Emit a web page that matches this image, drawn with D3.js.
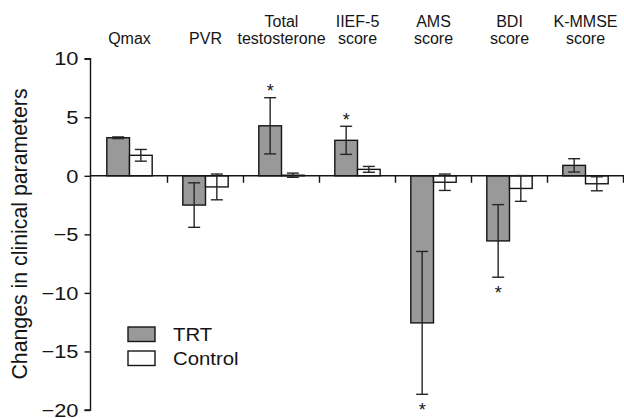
<!DOCTYPE html>
<html><head><meta charset="utf-8">
<script src="https://cdn.jsdelivr.net/npm/d3@7"></script>
<style>
html,body{margin:0;padding:0;background:#fff;}
svg{display:block;font-family:"Liberation Sans",Arial,sans-serif;}
</style></head>
<body><svg id="chart" width="624" height="418"></svg>
<script>
const categories = ["Qmax","PVR","Total testosterone","IIEF-5 score","AMS score","BDI score","K-MMSE score"];
const labelLines = [["Qmax"],["PVR"],["Total","testosterone"],["IIEF-5","score"],["AMS","score"],["BDI","score"],["K-MMSE","score"]];
const series = ["TRT","Control"];
const trtMean = [3.25,-2.5,4.27,3.03,-12.56,-5.56,0.89];
const trtErr  = [0.07,1.9,2.4,1.2,6.1,3.1,0.57];
const ctlMean = [1.75,-0.95,0.05,0.55,-0.55,-1.08,-0.68];
const ctlErr  = [0.5,1.1,0.18,0.25,0.7,1.1,0.6];
const significant = [false,false,true,true,true,true,false];
const yTicks = [10,5,0,-5,-10,-15,-20];

const svg = d3.select("#chart");
const x = d3.scaleBand().domain(categories).range([91.5,623.5]).paddingInner(0).paddingOuter(0);
const xi = d3.scaleBand().domain(series).range([0,x.bandwidth()]).paddingInner(0).paddingOuter(0.675);
const y = d3.scaleLinear().domain([-20,10]).range([410,58.7]);
const fills = {TRT:"#999999", Control:"#fdfdfd"};
const ink = "#151515";

const data = [];
categories.forEach((c,i)=>{
  data.push({cat:c, s:"TRT", v:trtMean[i], e:trtErr[i], sig:significant[i]});
  data.push({cat:c, s:"Control", v:ctlMean[i], e:ctlErr[i], sig:false});
});

// bars
svg.append("g").selectAll("rect").data(data).join("rect")
  .attr("x",d=>x(d.cat)+xi(d.s))
  .attr("width",xi.bandwidth())
  .attr("y",d=>y(Math.max(0,d.v)))
  .attr("height",d=>Math.abs(y(d.v)-y(0)))
  .attr("fill",d=>fills[d.s])
  .attr("stroke",ink).attr("stroke-width",1.4);

// x axis line (zero) with ticks at band boundaries
const xAxisG = svg.append("g").attr("transform",`translate(0,${y(0)})`);
xAxisG.append("line").attr("x1",91).attr("x2",624).attr("y1",0).attr("y2",0)
  .attr("stroke",ink).attr("stroke-width",1.4);
xAxisG.selectAll("line.tk").data(categories).join("line").attr("class","tk")
  .attr("x1",d=>x(d)+x.bandwidth()).attr("x2",d=>x(d)+x.bandwidth())
  .attr("y1",0).attr("y2",7).attr("stroke",ink).attr("stroke-width",1.4);

// error bars
const eg = svg.append("g").attr("stroke","#262626").attr("stroke-width",1.4);
data.forEach(d=>{
  const cx = x(d.cat)+xi(d.s)+xi.bandwidth()/2;
  const y1 = y(d.v+d.e), y2 = y(d.v-d.e);
  eg.append("line").attr("x1",cx).attr("x2",cx).attr("y1",y1).attr("y2",y2);
  eg.append("line").attr("x1",cx-6).attr("x2",cx+6).attr("y1",y1).attr("y2",y1);
  eg.append("line").attr("x1",cx-6).attr("x2",cx+6).attr("y1",y2).attr("y2",y2);
});

// asterisks
svg.append("g").selectAll("text").data(data.filter(d=>d.sig)).join("text")
  .attr("x",d=>x(d.cat)+xi(d.s)+xi.bandwidth()/2)
  .attr("y",d=> d.v>=0 ? y(d.v+d.e)-11+10.3 : y(d.v-d.e)+11+10.3)
  .attr("text-anchor","middle").attr("font-size",18).attr("fill",ink).text("*");

// y axis
const sx = 1.15;
const yAxis = d3.axisLeft(y).tickValues(yTicks).tickSize(6).tickPadding(0)
  .tickFormat(d=> d<0 ? "\u2212"+Math.abs(d) : String(d));
const yg = svg.append("g").attr("transform","translate(90.5,0)").call(yAxis);
yg.select(".domain").attr("stroke",ink).attr("stroke-width",1.4).attr("d","M-6,58.7H0V410H-6");
yg.selectAll(".tick line").attr("stroke",ink).attr("stroke-width",1.4);
yg.selectAll(".tick text").attr("font-size",19).attr("fill",ink)
  .attr("font-family","'Liberation Sans',Arial,sans-serif")
  .attr("x",-12/sx).attr("dy","0.33em").attr("transform",`scale(${sx},1)`);

// y title
svg.append("text").attr("transform","translate(26.5,234) rotate(-90)")
  .attr("text-anchor","middle").attr("font-size",21.3).attr("fill",ink)
  .text("Changes in clinical parameters");

// category labels
const lg = svg.append("g").attr("font-size",16).attr("fill",ink).attr("text-anchor","middle");
labelLines.forEach((lines,i)=>{
  const cx = x(categories[i])+x.bandwidth()/2;
  lines.forEach((t,j)=>{
    const base = lines.length===1 ? 44 : (j===0?27:44);
    lg.append("text").attr("x",cx).attr("y",base).text(t);
  });
});

// legend
const leg = svg.append("g");
const lsx = 1.1;
series.forEach((s,i)=>{
  const yy = 327 + i*24;
  leg.append("rect").attr("x",128).attr("y",yy).attr("width",27).attr("height",14.5)
    .attr("fill",fills[s]).attr("stroke",ink).attr("stroke-width",1.4);
  leg.append("text").attr("x",173/lsx).attr("y",yy+14.3).attr("transform",`scale(${lsx},1)`)
    .attr("font-size",18.5).attr("fill",ink).text(s);
});
</script></body></html>
